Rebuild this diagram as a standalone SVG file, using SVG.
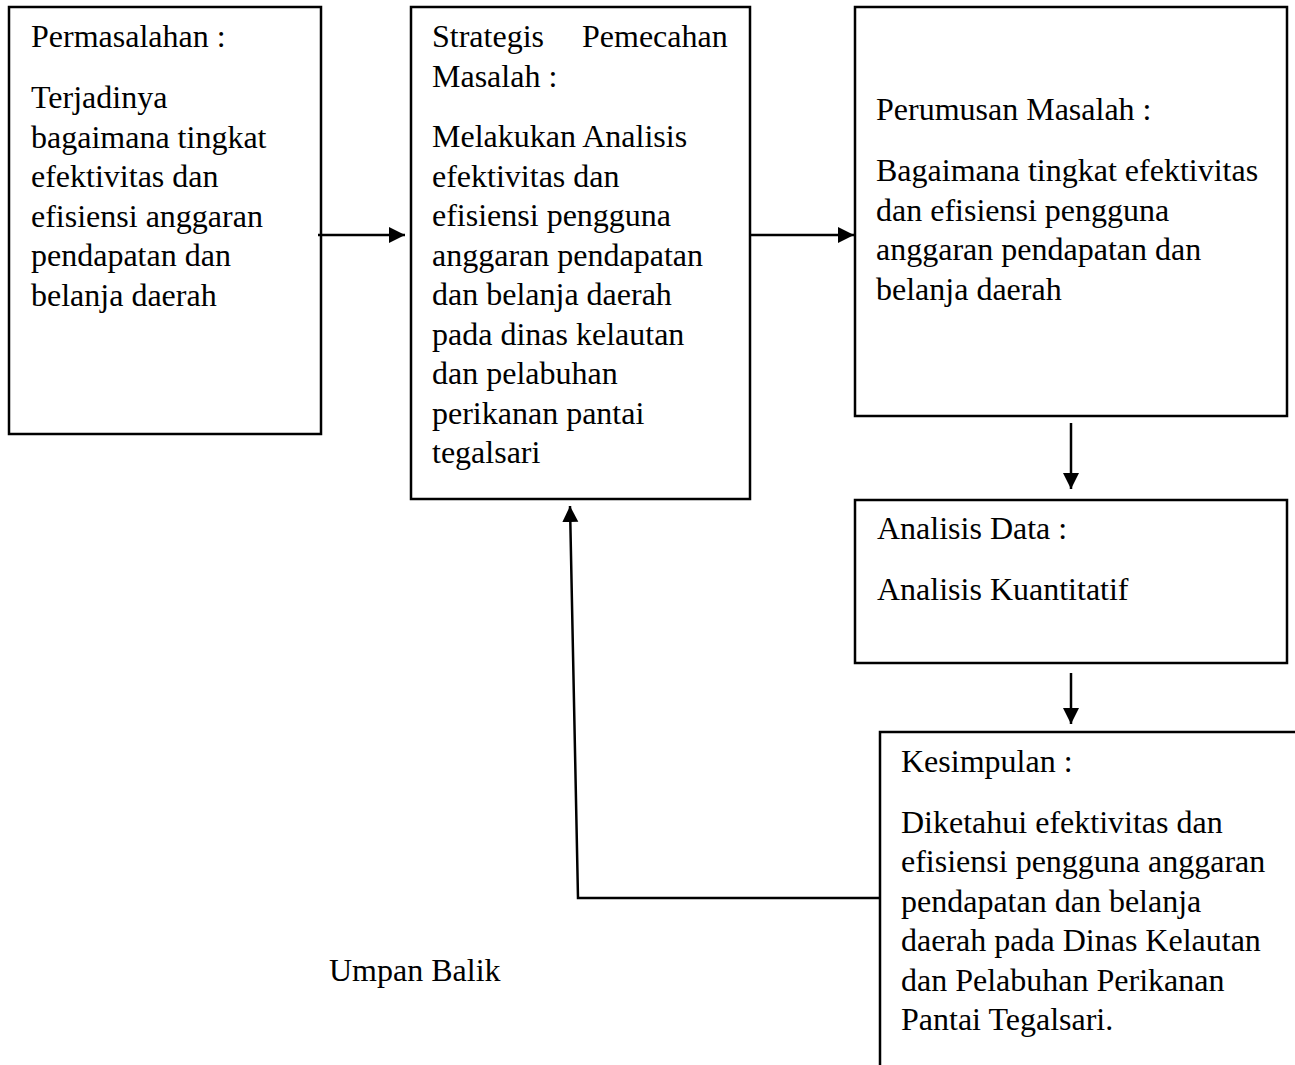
<svg xmlns="http://www.w3.org/2000/svg" width="1295" height="1065" viewBox="0 0 1295 1065">
<defs>
<style>
.box{fill:none;stroke:#000;stroke-width:2.5}
.t{font-family:"Liberation Serif","Times New Roman",serif;font-size:32px;fill:#000}
.c{fill:none;stroke:#000;stroke-width:2.5}
</style>
<marker id="ah" markerUnits="userSpaceOnUse" markerWidth="18" markerHeight="17" refX="16" refY="8" orient="auto">
<path d="M0,0 L16,8 L0,16 Z" fill="#000"/>
</marker>
</defs>
<rect width="1295" height="1065" fill="#fff"/>
<g id="node-permasalahan">
<rect class="box" x="9" y="7" width="312" height="427"/>
<text class="t" x="31" y="47">Permasalahan :</text>
<text class="t"><tspan x="31" y="108">Terjadinya</tspan><tspan x="31" y="147.5">bagaimana tingkat</tspan><tspan x="31" y="187">efektivitas dan</tspan><tspan x="31" y="226.5">efisiensi anggaran</tspan><tspan x="31" y="266">pendapatan dan</tspan><tspan x="31" y="305.5">belanja daerah</tspan></text>
</g>
<g id="node-strategis">
<rect class="box" x="411" y="7" width="339" height="492"/>
<text class="t"><tspan x="432" y="47">Strategis</tspan> <tspan x="582" y="47">Pemecahan</tspan></text>
<text class="t" x="432" y="87">Masalah :</text>
<text class="t"><tspan x="432" y="147">Melakukan Analisis</tspan><tspan x="432" y="186.5">efektivitas dan</tspan><tspan x="432" y="226">efisiensi pengguna</tspan><tspan x="432" y="265.5">anggaran pendapatan</tspan><tspan x="432" y="305">dan belanja daerah</tspan><tspan x="432" y="344.5">pada dinas kelautan</tspan><tspan x="432" y="384">dan pelabuhan</tspan><tspan x="432" y="423.5">perikanan pantai</tspan><tspan x="432" y="463">tegalsari</tspan></text>
</g>
<g id="node-perumusan">
<rect class="box" x="855" y="7" width="432" height="409"/>
<text class="t" x="876" y="119.5">Perumusan Masalah :</text>
<text class="t"><tspan x="876" y="181">Bagaimana tingkat efektivitas</tspan><tspan x="876" y="220.5">dan efisiensi pengguna</tspan><tspan x="876" y="260">anggaran pendapatan dan</tspan><tspan x="876" y="299.5">belanja daerah</tspan></text>
</g>
<g id="node-analisis">
<rect class="box" x="855" y="500" width="432" height="163"/>
<text class="t" x="877" y="538.5">Analisis Data :</text>
<text class="t" x="877" y="599.5">Analisis Kuantitatif</text>
</g>
<g id="node-kesimpulan">
<path class="box" d="M1300,732 H880 V1066"/>
<text class="t" x="901" y="772">Kesimpulan :</text>
<text class="t"><tspan x="901" y="832.5">Diketahui efektivitas dan</tspan><tspan x="901" y="872">efisiensi pengguna anggaran</tspan><tspan x="901" y="911.5">pendapatan dan belanja</tspan><tspan x="901" y="951">daerah pada Dinas Kelautan</tspan><tspan x="901" y="990.5">dan Pelabuhan Perikanan</tspan><tspan x="901" y="1030">Pantai Tegalsari.</tspan></text>
</g>
<g id="label-umpan-balik">
<text class="t" x="329" y="981">Umpan Balik</text>
</g>
<g id="connectors">
<line class="c" x1="318" y1="235" x2="405" y2="235" marker-end="url(#ah)"/>
<line class="c" x1="750" y1="235" x2="854" y2="235" marker-end="url(#ah)"/>
<line class="c" x1="1071" y1="423" x2="1071" y2="489" marker-end="url(#ah)"/>
<line class="c" x1="1071" y1="673" x2="1071" y2="724" marker-end="url(#ah)"/>
<polyline class="c" points="879,898 578,898 570,506" marker-end="url(#ah)"/>
</g>
</svg>
